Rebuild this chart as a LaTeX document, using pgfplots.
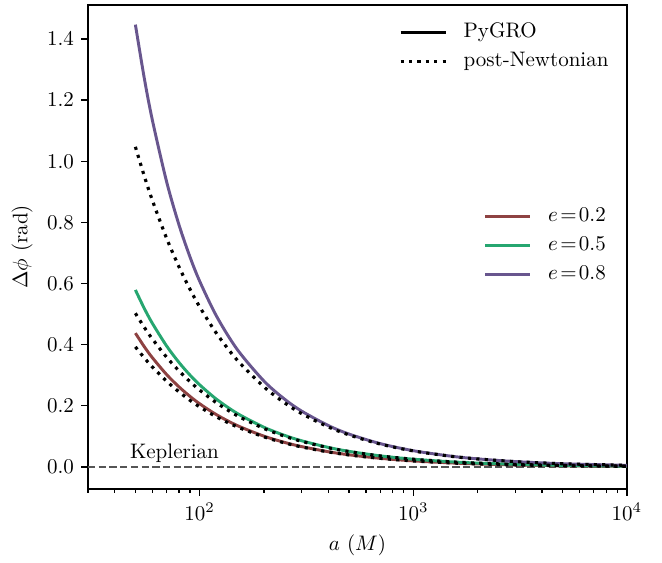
\documentclass[border=0pt]{standalone}
\usepackage{pgfplots}
\pgfplotsset{compat=1.18}
\usepackage{pgfplotstable}

\definecolor{cRed}{RGB}{142,66,66}
\definecolor{cGreen}{RGB}{38,166,112}
\definecolor{cPurple}{RGB}{104,86,142}
\definecolor{cKep}{RGB}{85,85,85}

% columns: a, PyGRO, post-Newtonian
\pgfplotstableread{
a gr pn
50 0.43773 0.39270
55 0.39361 0.35700
60 0.35758 0.32725
70 0.30229 0.28050
80 0.26184 0.24544
90 0.23095 0.21817
100 0.20659 0.19635
120 0.17062 0.16363
150 0.13530 0.13090
200 0.10061 0.098175
250 0.08008 0.07854
300 0.06651 0.06545
400 0.04968 0.049088
500 0.03965 0.03927
700 0.02824 0.02805
1000 0.01973 0.019635
1500 0.01313 0.01309
2000 0.0098406 0.0098175
3000 0.006555 0.006545
5000 0.003931 0.003927
10000 0.0019644 0.0019635
}\tabA

\pgfplotstableread{
a gr pn
50 0.57899 0.50266
55 0.51890 0.45696
60 0.47013 0.41888
70 0.39577 0.35904
80 0.34175 0.31416
90 0.30074 0.27926
100 0.26852 0.25133
120 0.22116 0.20944
150 0.17491 0.16755
200 0.12972 0.12566
250 0.10310 0.10053
300 0.08555 0.083777
400 0.06382 0.062833
500 0.05089 0.050266
700 0.03622 0.035904
1000 0.02529 0.025133
1500 0.01682 0.016755
2000 0.012604 0.012566
3000 0.0083946 0.0083776
5000 0.005033 0.0050266
10000 0.0025148 0.0025133
}\tabB

\pgfplotstableread{
a gr pn
50 1.4469 1.0472
55 1.27265 0.95200
60 1.13534 0.87267
70 0.93318 0.74800
80 0.79179 0.65450
90 0.68750 0.58178
100 0.60745 0.5236
120 0.49270 0.43633
150 0.38395 0.34907
200 0.28075 0.2618
250 0.22131 0.20944
300 0.18266 0.17453
400 0.13539 0.1309
500 0.10756 0.10472
700 0.07623 0.0748
1000 0.05305 0.05236
1500 0.03521 0.034907
2000 0.026351 0.02618
3000 0.017529 0.017453
5000 0.010499 0.010472
10000 0.0052428 0.005236
}\tabC

\newcommand{\eq}{\mkern2mu{=}\mkern2mu}

\begin{document}
\begin{tikzpicture}
\begin{axis}[
  width=256.6pt, height=230.4pt, scale only axis,
  xmode=log, log basis x=10, xmin=30, xmax=10000,
  ymin=-0.072, ymax=1.511,
  axis line style={line width=0.75pt},
  tick style={line width=0.6pt, black},
  tick align=outside, tick pos=left,
  major tick length=3.2pt, minor tick length=1.9pt,
  xtick={100,1000,10000},
  minor xtick={30,40,50,60,70,80,90,200,300,400,500,600,700,800,900,2000,3000,4000,5000,6000,7000,8000,9000},
  ytick={0,0.2,0.4,0.6,0.8,1.0,1.2,1.4},
  yticklabel style={/pgf/number format/fixed, /pgf/number format/precision=1, /pgf/number format/fixed zerofill},
  xlabel={$a\ (M)$}, ylabel={$\Delta\phi$ (rad)},
  legend style={draw=none, fill=none, at={(0.986,0.976)}, anchor=north east, row sep=2.75pt,
    nodes={inner xsep=2pt, inner ysep=1pt, text height=1.6ex, text depth=0.5ex}},
  legend cell align=left,
  legend image code/.code={\path[draw=none, fill=none] (0pt,0pt) -- (28pt,0pt); \draw[#1] (0pt,0pt) -- (21.4pt,0pt);},
]
\addplot[cKep, line width=0.75pt, dash pattern=on 3.5pt off 1.6pt, forget plot] coordinates {(30,0) (10000,0)};
\node[anchor=base west, inner sep=0pt] at (axis cs:47,0.026) {Keplerian};

\addplot[cRed, line width=1.4pt, smooth, forget plot] table[x=a, y=gr] {\tabA};
\addplot[cGreen, line width=1.4pt, smooth, forget plot] table[x=a, y=gr] {\tabB};
\addplot[cPurple, line width=1.4pt, smooth, forget plot] table[x=a, y=gr] {\tabC};

\addplot[black, line width=1.5pt, dash pattern=on 1.5pt off 2.5pt, smooth, forget plot] table[x=a, y=pn] {\tabA};
\addplot[black, line width=1.5pt, dash pattern=on 1.5pt off 2.5pt, smooth, forget plot] table[x=a, y=pn] {\tabB};
\addplot[black, line width=1.5pt, dash pattern=on 1.5pt off 2.5pt, smooth, forget plot] table[x=a, y=pn] {\tabC};

\addlegendimage{black, line width=1.5pt}
\addlegendentry{PyGRO}
\addlegendimage{black, line width=1.5pt, dash pattern=on 1.5pt off 2.5pt}
\addlegendentry{post-Newtonian}

\coordinate (SW) at (rel axis cs:0,0);
\coordinate (NE) at (rel axis cs:1,1);
\end{axis}
\begin{axis}[
  width=256.6pt, height=230.4pt, scale only axis,
  xmode=log, log basis x=10, xmin=30, xmax=10000,
  ymin=-0.072, ymax=1.511,
  hide axis,
  legend style={draw=none, fill=none, at={(0.981,0.504)}, anchor=east, row sep=2.75pt,
    nodes={inner xsep=2pt, inner ysep=1pt, text height=1.6ex, text depth=0.5ex}},
  legend cell align=left,
  legend image code/.code={\path[draw=none, fill=none] (0pt,0pt) -- (28pt,0pt); \draw[#1] (0pt,0pt) -- (21.4pt,0pt);},
]
\addplot[draw=none, forget plot] coordinates {(100,0)};
\addlegendimage{cRed, line width=1.4pt}
\addlegendentry{$e\eq0.2$}
\addlegendimage{cGreen, line width=1.4pt}
\addlegendentry{$e\eq0.5$}
\addlegendimage{cPurple, line width=1.4pt}
\addlegendentry{$e\eq0.8$}
\end{axis}
\path (SW) ++(-41.9pt,-33.3pt) coordinate (BL);
\path (NE) ++(16.7pt,2.4pt) coordinate (TR);
\path (BL) rectangle (TR);
\end{tikzpicture}
\end{document}
